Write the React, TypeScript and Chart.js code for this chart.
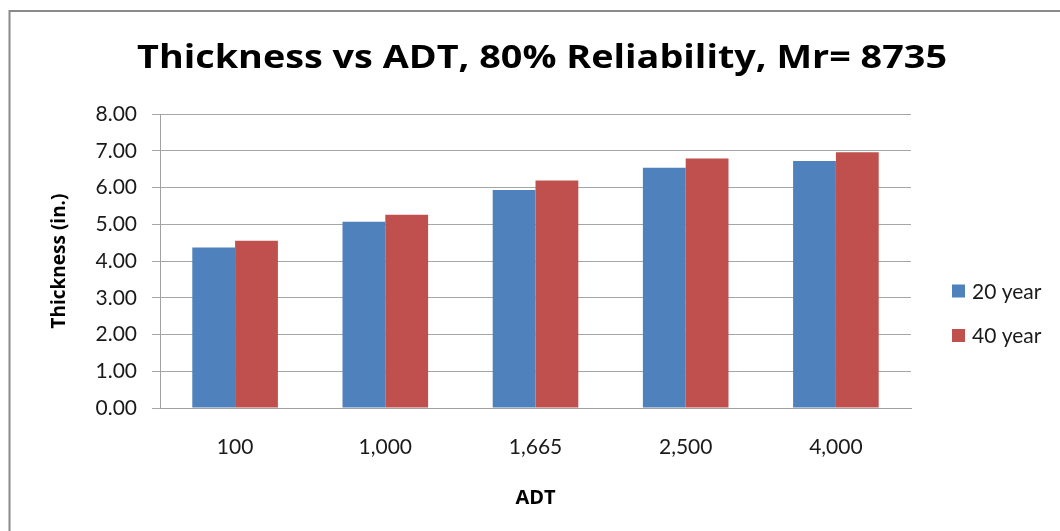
import React, { useEffect, useRef } from "react";
import { Chart, registerables } from "chart.js";

Chart.register(...registerables);

// Chart content
const chartTitle = "Thickness vs ADT, 80% Reliability, Mr= 8735";
const xAxisTitle = "ADT";
const yAxisTitle = "Thickness (in.)";
const categories = ["100", "1,000", "1,665", "2,500", "4,000"];
const seriesNames = ["20 year", "40 year"];
const year20 = [4.37, 5.07, 5.93, 6.54, 6.72];
const year40 = [4.55, 5.26, 6.19, 6.79, 6.96];
const yMin = 0;
const yMax = 8;
const yStep = 1;

const BLUE = "#4F81BD";
const RED = "#C0504D";
const FONT = 'Lato, "Open Sans", sans-serif';
const BOLD_FONT = '"Open Sans", Lato, sans-serif';
const TEXT = "#1a1a1a";

// White background and the thin grey frame around the chart
const framePlugin = {
  id: "frame",
  beforeDraw(chart: Chart) {
    const { ctx, width, height } = chart;
    ctx.save();
    ctx.fillStyle = "#ffffff";
    ctx.fillRect(0, 0, width, height);
    ctx.strokeStyle = "#8a8a8a";
    ctx.lineWidth = 2;
    ctx.strokeRect(9.5, 11, width + 20, height + 20);
    ctx.restore();
  },
};

// Main heading drawn above the plot, widened to span 137..947
const headingPlugin = {
  id: "heading",
  afterDraw(chart: Chart) {
    const { ctx } = chart;
    ctx.save();
    ctx.fillStyle = "#000";
    ctx.font = `bold 33px ${BOLD_FONT}`;
    ctx.textAlign = "center";
    ctx.textBaseline = "alphabetic";
    const w = ctx.measureText(chartTitle).width;
    const sx = Math.max(1, 810 / w);
    ctx.translate(542, 68);
    ctx.scale(sx, 1);
    ctx.fillText(chartTitle, 0, 0);
    ctx.restore();
  },
};

// Legend on the right, built from the datasets
const sideLegendPlugin = {
  id: "sideLegend",
  afterDraw(chart: Chart) {
    const { ctx } = chart;
    ctx.save();
    ctx.font = `21px ${FONT}`;
    ctx.textBaseline = "middle";
    ctx.textAlign = "left";
    const rows = [291, 335.5];
    chart.data.datasets.forEach((ds, i) => {
      const cy = rows[i];
      ctx.fillStyle = ds.backgroundColor as string;
      ctx.fillRect(952, cy - 6.5, 13, 13);
      ctx.fillStyle = TEXT;
      ctx.fillText(String(ds.label), 972, cy + 1);
    });
    ctx.restore();
  },
};

export default function App() {
  const canvasRef = useRef<HTMLCanvasElement>(null);

  useEffect(() => {
    const canvas = canvasRef.current;
    if (!canvas) return;
    const chart = new Chart(canvas, {
      type: "bar",
      data: {
        labels: categories,
        datasets: [
          { label: seriesNames[0], data: year20, backgroundColor: BLUE },
          { label: seriesNames[1], data: year40, backgroundColor: RED },
        ],
      },
      plugins: [framePlugin, headingPlugin, sideLegendPlugin],
      options: {
        responsive: false,
        animation: false,
        devicePixelRatio: 1,
        layout: { padding: { left: 0, top: 114, right: 149, bottom: 0 } },
        datasets: {
          bar: { categoryPercentage: 0.57, barPercentage: 1.0 },
        },
        plugins: {
          legend: { display: false },
          title: { display: false },
          tooltip: { enabled: false },
        },
        scales: {
          x: {
            grid: { display: false, drawTicks: false, tickLength: 0 },
            border: { display: true, color: "#a0a0a0", width: 1 },
            ticks: {
              color: TEXT,
              font: { family: FONT, size: 21 },
              padding: 27,
            },
            title: {
              display: true,
              text: xAxisTitle,
              color: "#000",
              font: { family: BOLD_FONT, size: 20, weight: "bold" },
              padding: { top: 0, bottom: 21 },
            },
            afterFit(scale: any) {
              scale.height = 123;
            },
          },
          y: {
            min: yMin,
            max: yMax,
            grid: {
              color: "#a6a6a6",
              lineWidth: 1,
              tickLength: 8,
              drawTicks: true,
            },
            border: { display: true, color: "#a0a0a0", width: 1 },
            ticks: {
              stepSize: yStep,
              color: TEXT,
              font: { family: FONT, size: 21 },
              padding: 15,
              callback: (v: any) => Number(v).toFixed(2),
            },
            title: {
              display: true,
              text: yAxisTitle,
              color: "#000",
              font: { family: BOLD_FONT, size: 19, weight: "bold" },
              padding: { top: 48, bottom: 0 },
            },
            afterFit(scale: any) {
              scale.width = 160;
            },
          },
        },
      },
    });
    return () => chart.destroy();
  }, []);

  return (
    <div
      style={{
        position: "fixed",
        left: 0,
        top: 0,
        width: 1060,
        height: 531,
        background: "#fff",
      }}
    >
      <canvas
        ref={canvasRef}
        width={1060}
        height={531}
        style={{ display: "block", width: 1060, height: 531 }}
      />
    </div>
  );
}
